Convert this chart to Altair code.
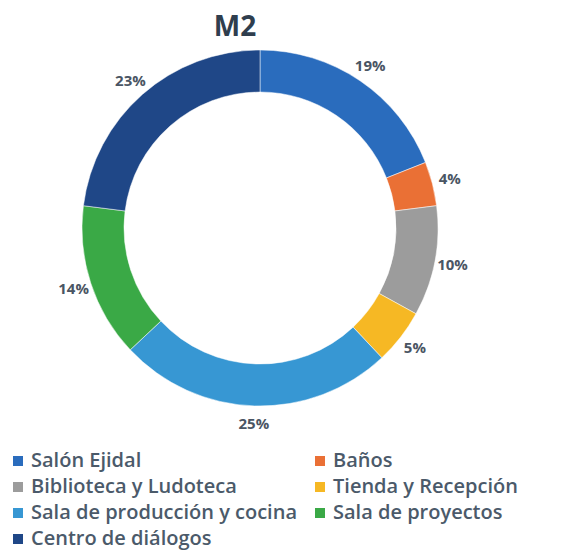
import altair as alt
import pandas as pd

title = "M2"
categories = ["Salón Ejidal", "Baños", "Biblioteca y Ludoteca", "Tienda y Recepción",
              "Sala de producción y cocina", "Sala de proyectos", "Centro de diálogos"]
values = [19, 4, 10, 5, 25, 14, 23]
labels = ["19%", "4%", "10%", "5%", "25%", "14%", "23%"]
colors = ["#2a6cbd", "#ea7035", "#9c9c9c", "#f6b824", "#3797d3", "#3aa946", "#1f4787"]

df = pd.DataFrame({"cat": categories, "val": values, "lab": labels,
                   "order": list(range(len(categories)))})

cx, cy = 252, 220
base = alt.Chart(df).encode(
    theta=alt.Theta("val:Q", stack=True),
    order=alt.Order("order:Q"),
)

arcs = base.mark_arc(outerRadius=178, innerRadius=136, stroke="#ffffff", strokeWidth=0.5).encode(
    x=alt.value(cx), y=alt.value(cy),
    color=alt.Color("cat:N", sort=categories,
                    scale=alt.Scale(domain=categories, range=colors),
                    legend=alt.Legend(
                        title=None, orient="none", legendX=0, legendY=443,
                        direction="horizontal",
                        columns=2, columnPadding=13, rowPadding=6,
                        symbolType="square", symbolSize=100, symbolStrokeWidth=0,
                        labelFont="Open Sans", labelFontSize=20, labelFontWeight=600,
                        labelColor="#4b5a6a", labelLimit=400, symbolOffset=0,
                        labelOffset=3)),
)

text = base.mark_text(radius=196, font="Open Sans", fontSize=15, fontWeight=700,
                      color="#4a5563").encode(
    x=alt.value(cx), y=alt.value(cy), text="lab:N")

ttl = alt.Chart(pd.DataFrame({"t": [title]})).mark_text(
    font="Open Sans", fontSize=28, fontWeight=700, color="#2f3e4e", baseline="middle"
).encode(x=alt.value(227), y=alt.value(20), text="t:N")

chart = alt.layer(arcs, text, ttl).properties(
    width=557, height=546, padding=0,
    autosize=alt.AutoSizeParams(type="none"),
).configure_view(stroke=None)

chart.save("out.html", embed_options={"renderer": "svg", "actions": False})
